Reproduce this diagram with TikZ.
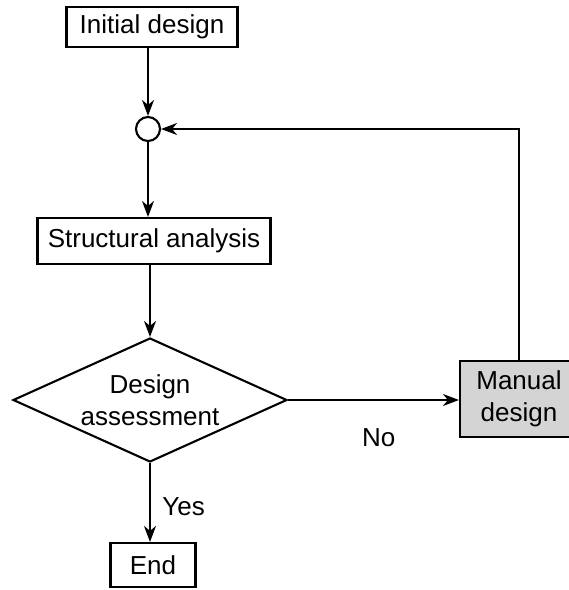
\documentclass[tikz,border=0pt]{standalone}
\usepackage{fontspec}
\setmainfont{Liberation Sans}
\usetikzlibrary{shapes.geometric,arrows.meta}

\tikzset{
  block/.style={draw, line width=2.1pt, minimum height=40pt, inner sep=0pt},
  decision/.style={draw, diamond, line width=2.1pt, aspect=2.2, minimum width=274pt, minimum height=124pt, inner sep=0pt, align=center},
  junction/.style={draw, circle, line width=2.1pt, minimum size=24pt, inner sep=0pt},
}

\begin{document}
\begin{tikzpicture}[x=1pt, y=-1pt, line width=2.1pt,
    >={Stealth[length=16pt,width=12pt,inset=5pt]},
    font=\fontsize{26}{32}\selectfont]
  \useasboundingbox (0,0) rectangle (569,590);

  \node[block, minimum width=171pt, at={(152,27)}] (init) {Initial design};
  \node[junction, at={(148,129)}] (merge) {};
  \node[block, minimum width=233pt, minimum height=46pt, at={(154,241)}] (analysis) {Structural analysis};
  \node[decision, at={(150,400)}] (assess) {Design\\assessment};
  \node[block, fill=black!17, minimum width=118pt, minimum height=76pt, align=center, at={(519,399)}] (manual) {Manual\\design};
  \node[block, minimum width=85pt, minimum height=44pt, at={(153,565)}] (done) {End};

  \draw[->] (init.south -| merge) -- (merge);
  \draw[->] (merge) -- (merge |- analysis.north);
  \draw[->] (analysis.south -| assess) -- (assess);
  \draw[->] (assess.east) -- node[pos=0.53, yshift=-38pt] {No} (assess.east -| manual.west);
  \draw[->] (manual.north) |- (merge.east);
  \draw[->] (assess.south) -- node[midway, anchor=west, xshift=8pt, yshift=-4pt] {Yes} (assess.south |- done.north);
\end{tikzpicture}
\end{document}
